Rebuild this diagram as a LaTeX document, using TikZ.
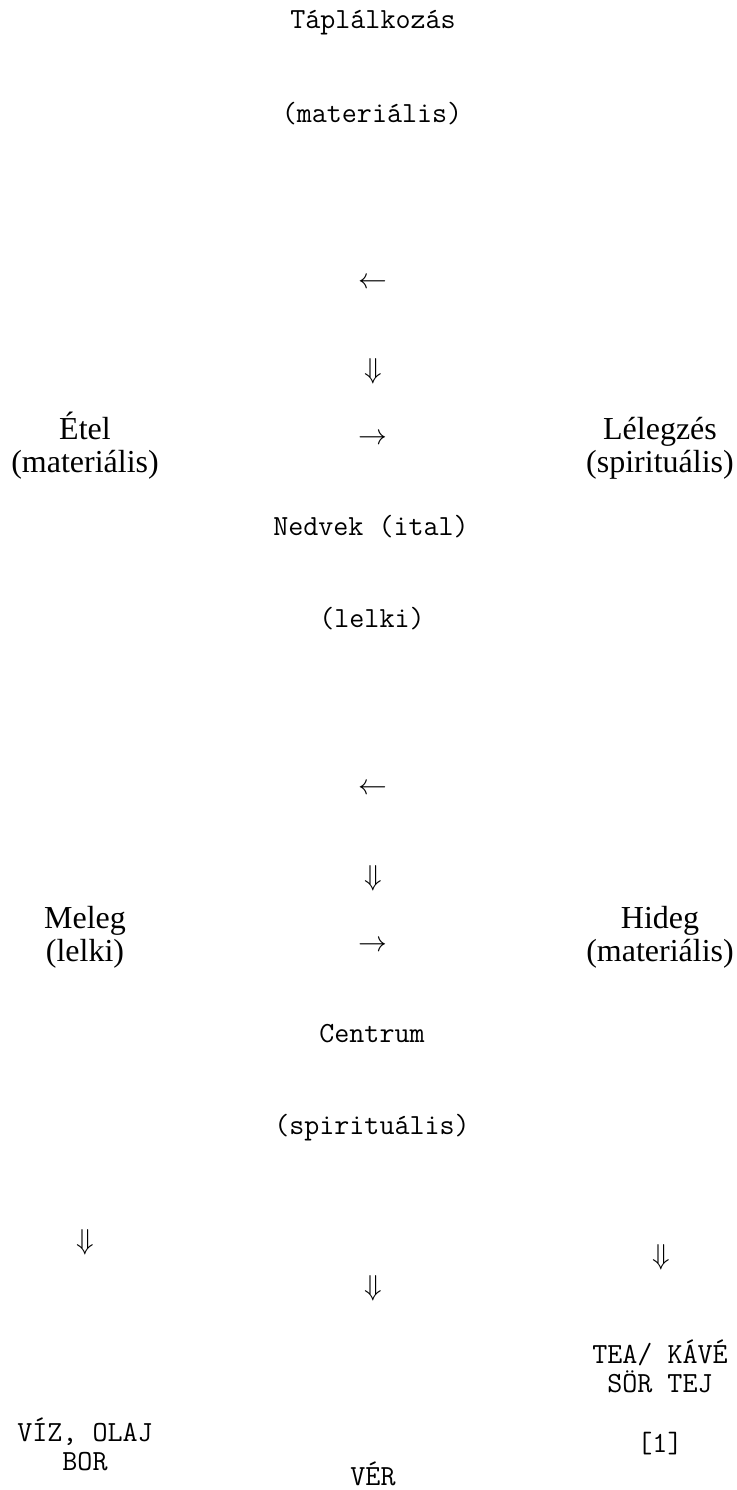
\documentclass[tikz,border=0pt]{standalone}
\usepackage{fontspec}
\setmainfont{Liberation Serif}
\begin{document}
\begin{tikzpicture}[x=0.5pt,y=-0.5pt,
  mono/.style={font=\ttfamily\fontsize{14.6}{14.5}\selectfont, inner sep=0pt, anchor=base, align=center},
  serif/.style={font=\fontsize{16}{16.5}\selectfont, inner sep=0pt, anchor=base, align=center},
  sym/.style={font=\fontsize{13.5}{15}\selectfont, inner sep=0pt}]
\useasboundingbox (0,0) rectangle (736,1490);
% monospaced labels (anchor base = last line)
\node[mono] (tap)    at (373,28)   {Táplálkozás};
\node[mono] (mat1)   at (372,122)  {(materiális)};
\node[mono] (ned)    at (371,535)  {Nedvek (ital)};
\node[mono] (lelki1) at (372,627)  {(lelki)};
\node[mono] (cent)   at (372,1042) {Centrum};
\node[mono] (spir1)  at (372,1134) {(spirituális)};
\node[mono] (tea)    at (660,1392) {TEA/ KÁVÉ\\SÖR TEJ};
\node[mono] (ref)    at (660,1452) {[1]};
\node[mono] (viz)    at (85,1470)  {VÍZ, OLAJ\\BOR};
\node[mono] (ver)    at (373,1485) {VÉR};
% serif labels
\node[serif] (etel)  at (85,472)  {Étel\\(materiális)};
\node[serif] (leleg) at (660,472) {Lélegzés\\(spirituális)};
\node[serif] (meleg) at (85,961)  {Meleg\\(lelki)};
\node[serif] (hideg) at (660,961) {Hideg\\(materiális)};
% arrow glyphs
\node[sym] (la1) at (373,283)  {$\leftarrow$};
\node[sym] (da1) at (373,371)  {$\Downarrow$};
\node[sym] (ra1) at (373,439)  {$\rightarrow$};
\node[sym] (la2) at (373,789)  {$\leftarrow$};
\node[sym] (da2) at (373,878)  {$\Downarrow$};
\node[sym] (ra2) at (373,946)  {$\rightarrow$};
\node[sym] (da3) at (85,1242)  {$\Downarrow$};
\node[sym] (da4) at (661,1257) {$\Downarrow$};
\node[sym] (da5) at (373,1288) {$\Downarrow$};
\end{tikzpicture}
\end{document}
